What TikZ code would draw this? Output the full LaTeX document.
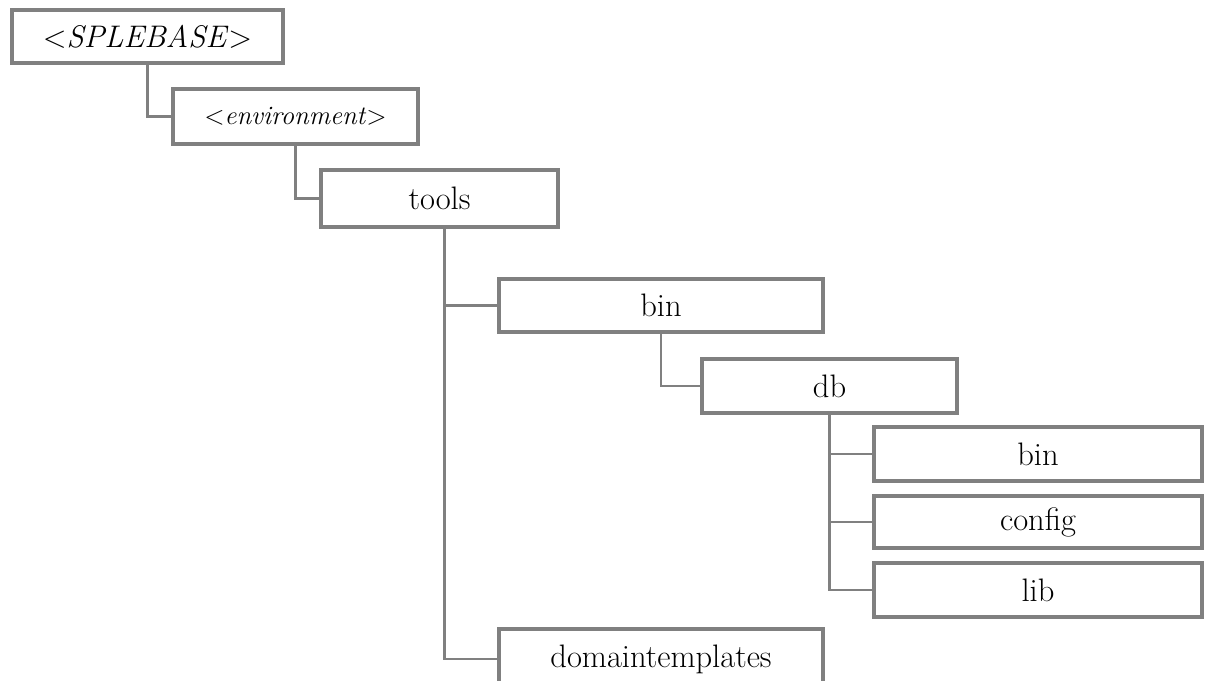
\documentclass[tikz,border=0pt]{standalone}
\usepackage{fontspec}
\begin{document}
\definecolor{boxgray}{HTML}{808080}
\tikzset{
  dirbox/.style={draw=boxgray, line width=3.5pt, fill=white, rectangle, inner sep=0pt, outer sep=0pt, font=\fontsize{32.5}{36}\selectfont},
  link/.style={draw=boxgray, line width=2.2pt}
}
\begin{tikzpicture}[x=1pt,y=-1pt]
\useasboundingbox (0,0) rectangle (1206,680);
\node[dirbox, minimum width=271pt, minimum height=53pt, font=\fontsize{31.2}{35}\selectfont] (root) at (147.5,36.5) {{\upshape<}\textit{SPLEBASE}{\upshape>}};
\node[dirbox, minimum width=245pt, minimum height=55pt, font=\fontsize{26.6}{30}\selectfont] (env) at (295.5,116.5) {{\upshape<}\textit{environment}{\upshape>}};
\node[dirbox, minimum width=237pt, minimum height=57pt] (tools) at (439.5,198.5) {tools};
\node[dirbox, minimum width=324pt, minimum height=53pt] (bin) at (661,305.5) {bin};
\node[dirbox, minimum width=255pt, minimum height=54pt] (db) at (829.5,386) {db};
\node[dirbox, minimum width=328pt, minimum height=54pt] (dbbin) at (1038,454) {bin};
\node[dirbox, minimum width=328pt, minimum height=52pt] (config) at (1038,522) {config};
\node[dirbox, minimum width=328pt, minimum height=54pt] (lib) at (1038,590) {lib};
\node[dirbox, minimum width=324pt, minimum height=60pt] (dom) at (661,659) {domaintemplates};
\draw[link] (root.south) |- (env.west);
\draw[link] (env.south) |- (tools.west);
\draw[link] ([xshift=5pt]tools.south) |- (bin.west);
\draw[link] ([xshift=5pt]tools.south) |- (dom.west);
\draw[link] (bin.south) |- (db.west);
\draw[link] (db.south) |- (dbbin.west);
\draw[link] (db.south) |- (config.west);
\draw[link] (db.south) |- (lib.west);
\end{tikzpicture}
\end{document}
